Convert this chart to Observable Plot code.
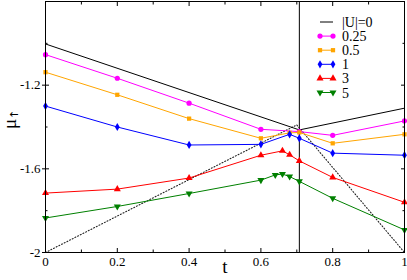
<!DOCTYPE html>
<html><head><meta charset="utf-8">
<script src="https://cdn.jsdelivr.net/npm/d3@7"></script>
<script src="https://cdn.jsdelivr.net/npm/@observablehq/plot@0.6"></script>
<style>
body{margin:0;background:#fff}
svg{display:block}
svg text{font-family:"Liberation Serif","Tinos","Nimbus Roman","Times New Roman","DejaVu Serif",serif !important;}
svg text.arrow{font-family:"DejaVu Sans",sans-serif !important;}
</style>
</head><body><div id="chart"></div>
<script>
// ---- data ----
const seriesNames = ["|U|=0", "0.25", "0.5", "1", "3", "5"];
const seriesColors = ["#000000", "#ff00ff", "#ffa500", "#0000ff", "#ff0000", "#008000"];
const seriesSymbols = [null, "circle", "square", "diamond", "triangle", "triangle"];
const seriesRotate = [0, 0, 0, 0, 0, 180];

const tU0 = [0, 0.7071, 1];
const muU0 = [-1.003, -1.414, -1.31];
const tU025 = [0, 0.2, 0.4, 0.6, 0.7071, 0.8, 1];
const muU025 = [-1.054, -1.167, -1.286, -1.411, -1.422, -1.440, -1.371];
const tU05 = [0, 0.2, 0.4, 0.6, 0.68, 0.7071, 0.8, 1];
const muU05 = [-1.138, -1.246, -1.360, -1.454, -1.428, -1.426, -1.478, -1.435];
const tU1 = [0, 0.2, 0.4, 0.6, 0.68, 0.7071, 0.8, 1];
const muU1 = [-1.300, -1.400, -1.486, -1.483, -1.435, -1.454, -1.525, -1.535];
const tU3 = [0, 0.2, 0.4, 0.6, 0.66, 0.68, 0.7071, 0.8, 1];
const muU3 = [-1.716, -1.697, -1.644, -1.535, -1.514, -1.533, -1.562, -1.641, -1.760];
const tU5 = [0, 0.2, 0.4, 0.6, 0.64, 0.66, 0.68, 0.7071, 0.8, 1];
const muU5 = [-1.835, -1.780, -1.718, -1.654, -1.629, -1.625, -1.637, -1.660, -1.741, -1.892];

const tDotted = [0, 0.70, 1];
const muDotted = [-2, -1.39, -2];
const tCritical = [0.7071];

const xMajor = [0, 0.2, 0.4, 0.6, 0.8, 1];
const xMinor = [0.1, 0.3, 0.5, 0.7, 0.9];
const xTickLabels = ["0", "0.2", "0.4", "0.6", "0.8", "1"];
const yLabeled = [-2, -1.6, -1.2];
const yTickLabels = ["-2", "-1.6", "-1.2"];
const yMajor = [-1.6, -1.2, -0.8];
const yMinor = [-1.8, -1.4, -1.0];

// ---- build ----
const tArrs = [tU0, tU025, tU05, tU1, tU3, tU5];
const muArrs = [muU0, muU025, muU05, muU1, muU3, muU5];
const rows = [];
seriesNames.forEach((s, i) => tArrs[i].forEach((t, j) => rows.push({s, i, t, mu: muArrs[i][j]})));
const dotted = tDotted.map((t, j) => ({t, mu: muDotted[j]}));
const symR = [0, 2.6, 2.4, 2.5, 2.6, 2.6];

const marks = [
  Plot.ruleX(tCritical, {stroke: "#000", strokeWidth: 1}),
  Plot.line(dotted, {x: "t", y: "mu", stroke: "#222", strokeWidth: 1.1, strokeDasharray: "1 2"}),
];
seriesNames.forEach((s, i) => {
  const d = rows.filter(r => r.i === i);
  marks.push(Plot.line(d, {x: "t", y: "mu", stroke: seriesColors[i], strokeWidth: 1}));
  if (seriesSymbols[i]) marks.push(Plot.dot(d, {x: "t", y: "mu", fill: seriesColors[i], stroke: "none",
    symbol: seriesSymbols[i], r: symR[i], rotate: seriesRotate[i]}));
});
const tickOnly = {fill: "none", label: null, stroke: "#000"};
marks.push(
  Plot.frame({stroke: "#000"}),
  // inward ticks
  Plot.axisX(xMajor, {...tickOnly, anchor: "bottom", tickSize: 4, dy: -4}),
  Plot.axisX(xMinor, {...tickOnly, anchor: "bottom", tickSize: 2.5, dy: -2.5}),
  Plot.axisX(xMajor, {...tickOnly, anchor: "top", tickSize: 4, dy: 4}),
  Plot.axisX(xMinor, {...tickOnly, anchor: "top", tickSize: 2.5, dy: 2.5}),
  Plot.axisY(yMajor, {...tickOnly, anchor: "left", tickSize: 4, dx: 4}),
  Plot.axisY(yMinor, {...tickOnly, anchor: "left", tickSize: 2.5, dx: 2.5}),
  Plot.axisY(yMajor, {...tickOnly, anchor: "right", tickSize: 4, dx: -4}),
  Plot.axisY(yMinor, {...tickOnly, anchor: "right", tickSize: 2.5, dx: -2.5}),
  // labels
  Plot.axisX(xMajor, {anchor: "bottom", tickSize: 0, tickPadding: 4, tickFormat: (d) => xTickLabels[xMajor.indexOf(d)],
    fontSize: 13, label: null, fill: "#000"}),
  Plot.axisY(yLabeled, {anchor: "left", tickSize: 3, tickPadding: 2, tickFormat: (d) => yTickLabels[yLabeled.indexOf(d)],
    fontSize: 13, label: null, fill: "#000", stroke: "#000"}),
  Plot.text(["t"], {frameAnchor: "bottom", dy: 20, text: d => d, fontSize: 19, fill: "#000"}),
  Plot.text(["μ"], {frameAnchor: "left", dx: -36, dy: 2, rotate: -90, text: d => d, fontSize: 19, fill: "#000"}),
  Plot.text(["↑"], {frameAnchor: "left", dx: -31, dy: -8, rotate: -90, text: d => d, fontSize: 11, fill: "#000"})
);

const chart = Plot.plot({
  width: 407, height: 280,
  marginLeft: 45, marginRight: 3, marginTop: 1, marginBottom: 28,
  x: {domain: [0, 1]},
  y: {domain: [-2, -0.8]},
  style: {background: "#fff", color: "#000", overflow: "visible"},
  marks
});
document.getElementById("chart").appendChild(chart);
d3.select(chart).selectAll("text").filter(function() { return this.textContent === "↑"; }).classed("arrow", true);

// ---- legend ----
const svg = d3.select(chart);
const lg = svg.append("g").attr("text-anchor", "start");
const lx0 = 320, lx1 = 333, ly0 = 22, ldy = 14.1;
seriesNames.forEach((s, i) => {
  const y = ly0 + i * ldy;
  lg.append("line").attr("x1", lx0).attr("x2", lx1).attr("y1", y).attr("y2", y)
    .attr("stroke", seriesColors[i]).attr("stroke-width", 1);
  if (seriesSymbols[i]) {
    const symType = {circle: d3.symbolCircle, square: d3.symbolSquare, diamond: d3.symbolDiamond, triangle: d3.symbolTriangle}[seriesSymbols[i]];
    const r = symR[i];
    const path = d3.symbol(symType, Math.PI * r * r)();
    [lx0, lx1].forEach(x => lg.append("path").attr("d", path)
      .attr("transform", `translate(${x},${y}) rotate(${seriesRotate[i]})`).attr("fill", seriesColors[i]));
  }
  lg.append("text").attr("x", 342).attr("y", y + 5).attr("font-size", 14)
    .attr("text-anchor", "start").attr("fill", "#000").text(s);
});
</script></body></html>
